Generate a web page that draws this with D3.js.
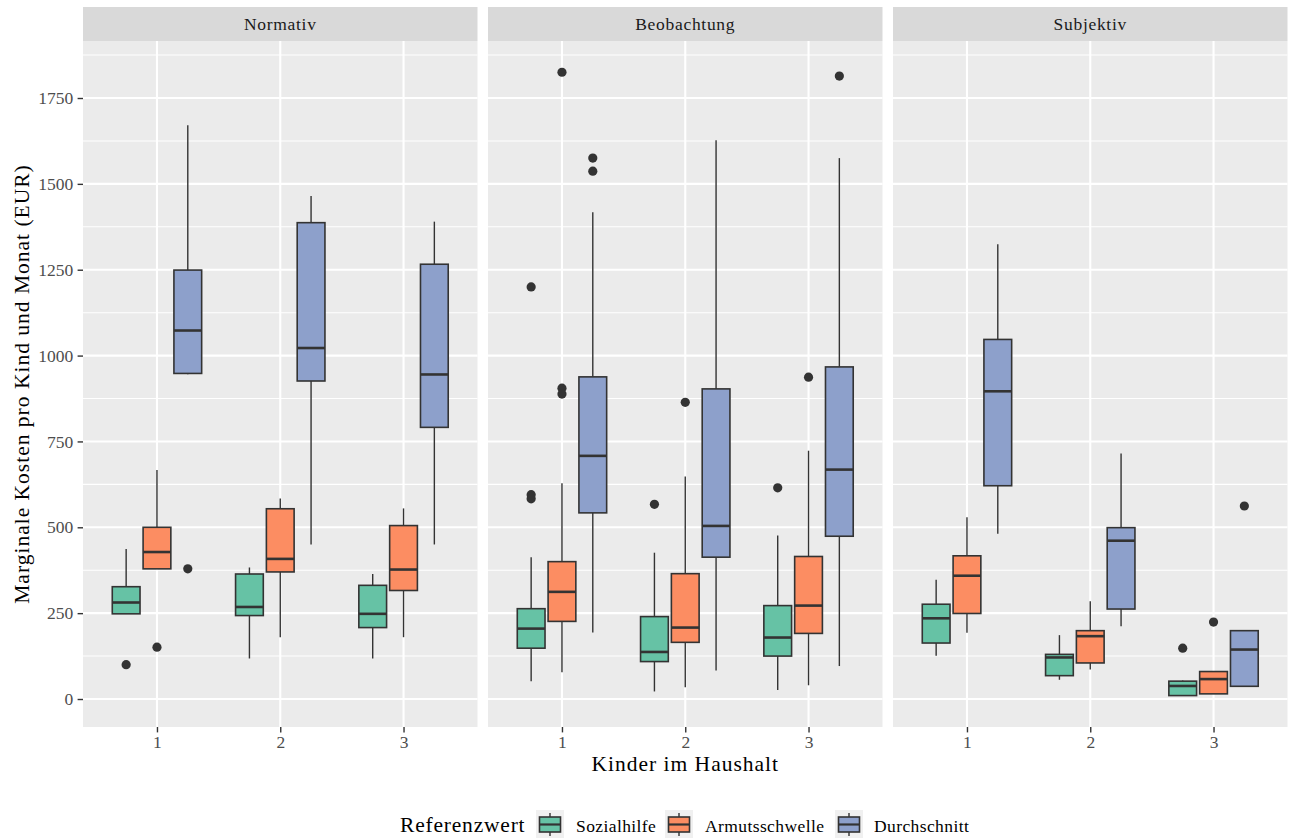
<!DOCTYPE html>
<html><head><meta charset="utf-8">
<script src="https://cdn.jsdelivr.net/npm/d3@7"></script>
<style>
body{margin:0;background:#fff}
svg{display:block}
text{font-family:"Liberation Serif","Times New Roman",serif}
</style>
</head><body>
<svg id="c" width="1295" height="838"></svg>
<script>
// ---------------- data ----------------
const facets   = ["Normativ", "Beobachtung", "Subjektiv"];
const kinder   = ["1", "2", "3"];
const referenz = ["Sozialhilfe", "Armutsschwelle", "Durchschnitt"];
const colors   = ["#66c2a5", "#fc8d62", "#8da0cb"];
const yTicks   = [0, 250, 500, 750, 1000, 1250, 1500, 1750];
const yMinor   = [125, 375, 625, 875, 1125, 1375, 1625, 1875];

// order: facet -> kinder -> referenz
const whiskerLow  = [248, 379, 946,  118, 180, 450,  118, 180, 450,
                      52,  78, 194,   22,  34,  83,   26,  40,  96,
                     126, 193, 481,   56,  86, 212,   10,  15,  37];
const q1          = [248, 379, 948,  243, 370, 926,  208, 316, 791,
                     148, 226, 542,  109, 165, 413,  125, 191, 474,
                     163, 249, 621,   68, 105, 262,   10,  15,  37];
const median      = [281, 428, 1073, 268, 408, 1022, 248, 377, 945,
                     205, 312, 708,  137, 208, 504,  179, 272, 668,
                     235, 359, 896,  121, 183, 461,   38,  58, 144];
const q3          = [327, 500, 1249, 364, 554, 1387, 331, 505, 1266,
                     263, 400, 938,  240, 365, 903,  272, 415, 967,
                     276, 417, 1047, 130, 199, 499,   52,  80, 199];
const whiskerHigh = [437, 667, 1671, 383, 584, 1465, 364, 555, 1390,
                     413, 628, 1417, 426, 648, 1627, 476, 723, 1575,
                     347, 529, 1324, 186, 285, 715,   54,  80, 199];
const outliers    = [[100], [151], [379],  [], [], [],  [], [], [],
                     [1200, 595, 583], [1825, 905, 888], [1575, 1537],
                     [567], [864], [],  [615], [937], [1814],
                     [], [], [],  [], [], [],  [148], [224], [562]];

// ---------------- layout ----------------
const svg = d3.select("#c");
const panelTop = 41, panelBottom = 727, panelW = 394.5;
const panelLefts = [83, 488, 893];
const stripTop = 7;
const stroke = "#333333";

const y = d3.scaleLinear().domain([-81.5, 1916]).range([panelBottom, panelTop]);

facets.forEach((fname, fi) => {
  const left = panelLefts[fi];
  const x = d3.scalePoint().domain(kinder).range([left, left + panelW]).padding(0.6);
  const step = x.step();
  const inner = d3.scaleBand().domain(referenz)
    .range([-0.375 * step, 0.375 * step]).paddingInner(0.1).paddingOuter(0.05);

  const g = svg.append("g");
  // strip
  g.append("rect").attr("x", left).attr("y", stripTop).attr("width", panelW)
    .attr("height", panelTop - stripTop).attr("fill", "#d9d9d9");
  g.append("text").attr("x", left + panelW / 2).attr("y", 29.5)
    .attr("text-anchor", "middle").attr("font-size", 17.5).attr("letter-spacing", 0.7)
    .attr("fill", "#1a1a1a").text(fname);
  // panel bg
  g.append("rect").attr("x", left).attr("y", panelTop).attr("width", panelW)
    .attr("height", panelBottom - panelTop).attr("fill", "#ebebeb");
  // grid
  g.selectAll(".minor").data(yMinor).join("line")
    .attr("x1", left).attr("x2", left + panelW)
    .attr("y1", d => y(d)).attr("y2", d => y(d))
    .attr("stroke", "#fff").attr("stroke-width", 1.05);
  g.selectAll(".major").data(yTicks).join("line")
    .attr("x1", left).attr("x2", left + panelW)
    .attr("y1", d => y(d)).attr("y2", d => y(d))
    .attr("stroke", "#fff").attr("stroke-width", 2.1);
  g.selectAll(".vmajor").data(kinder).join("line")
    .attr("x1", d => x(d)).attr("x2", d => x(d))
    .attr("y1", panelTop).attr("y2", panelBottom)
    .attr("stroke", "#fff").attr("stroke-width", 2.1);

  // x axis
  const xa = svg.append("g").attr("transform", `translate(0,${panelBottom})`)
    .call(d3.axisBottom(x).tickSize(5.4).tickPadding(3.5));
  xa.select(".domain").remove();
  xa.selectAll(".tick line").attr("stroke", stroke).attr("stroke-width", 1.4);
  xa.selectAll(".tick text").attr("fill", "#4d4d4d").attr("font-size", 17.5)
    .attr("font-family", '"Liberation Serif",serif');

  // boxes
  kinder.forEach((k, ki) => {
    referenz.forEach((r, ri) => {
      const i = fi * 9 + ki * 3 + ri;
      const cx = x(k) + inner(r) + inner.bandwidth() / 2;
      const bw = inner.bandwidth();
      const bg = g.append("g");
      bg.append("line").attr("x1", cx).attr("x2", cx)
        .attr("y1", y(q3[i])).attr("y2", y(whiskerHigh[i]))
        .attr("stroke", stroke).attr("stroke-width", 1.4);
      bg.append("line").attr("x1", cx).attr("x2", cx)
        .attr("y1", y(q1[i])).attr("y2", y(whiskerLow[i]))
        .attr("stroke", stroke).attr("stroke-width", 1.4);
      bg.append("rect").attr("x", cx - bw / 2).attr("width", bw)
        .attr("y", y(q3[i])).attr("height", y(q1[i]) - y(q3[i]))
        .attr("fill", colors[ri]).attr("stroke", stroke).attr("stroke-width", 1.6);
      bg.append("line").attr("x1", cx - bw / 2).attr("x2", cx + bw / 2)
        .attr("y1", y(median[i])).attr("y2", y(median[i]))
        .attr("stroke", stroke).attr("stroke-width", 2.6);
      bg.selectAll("circle").data(outliers[i]).join("circle")
        .attr("cx", cx).attr("cy", d => y(d)).attr("r", 4.6).attr("fill", stroke);
    });
  });
});

// y axis
const ya = svg.append("g").attr("transform", `translate(${panelLefts[0]},0)`)
  .call(d3.axisLeft(y).tickValues(yTicks).tickFormat(d3.format("d")).tickSize(5.4).tickPadding(4.3));
ya.select(".domain").remove();
ya.selectAll(".tick line").attr("stroke", stroke).attr("stroke-width", 1.4);
ya.selectAll(".tick text").attr("fill", "#4d4d4d").attr("font-size", 17.5)
  .attr("font-family", '"Liberation Serif",serif');

// axis titles
svg.append("text").attr("x", (panelLefts[0] + panelLefts[2] + panelW) / 2).attr("y", 771)
  .attr("text-anchor", "middle").attr("font-size", 21.5).attr("letter-spacing", 1)
  .attr("fill", "#000").text("Kinder im Haushalt");
svg.append("text").attr("transform", `translate(29,${(panelTop + panelBottom) / 2}) rotate(-90)`)
  .attr("text-anchor", "middle").attr("font-size", 21.5).attr("letter-spacing", 1)
  .attr("fill", "#000").text("Marginale Kosten pro Kind und Monat (EUR)");

// legend
const lg = svg.append("g");
lg.append("text").attr("x", 400).attr("y", 832).attr("font-size", 21.5)
  .attr("letter-spacing", 0.8).attr("fill", "#000").text("Referenzwert");
const keyX = [536, 665, 835];
const labX = [576, 705, 874];
referenz.forEach((r, ri) => {
  const kx = keyX[ri], ky = 810, ks = 28;
  lg.append("rect").attr("x", kx).attr("y", ky).attr("width", ks).attr("height", ks)
    .attr("fill", "#f0f0f0");
  const cx = kx + ks / 2;
  lg.append("line").attr("x1", cx).attr("x2", cx).attr("y1", ky + 3).attr("y2", ky + ks - 2)
    .attr("stroke", stroke).attr("stroke-width", 1.4);
  lg.append("rect").attr("x", kx + 3.5).attr("y", ky + 7).attr("width", ks - 7).attr("height", 15)
    .attr("fill", colors[ri]).attr("stroke", stroke).attr("stroke-width", 1.6);
  lg.append("line").attr("x1", kx + 3.5).attr("x2", kx + ks - 3.5)
    .attr("y1", ky + 14.5).attr("y2", ky + 14.5).attr("stroke", stroke).attr("stroke-width", 2.2);
  lg.append("text").attr("x", labX[ri]).attr("y", 832).attr("font-size", 17.5)
    .attr("letter-spacing", 0.4).attr("fill", "#000").text(r);
});
</script>
</body></html>
